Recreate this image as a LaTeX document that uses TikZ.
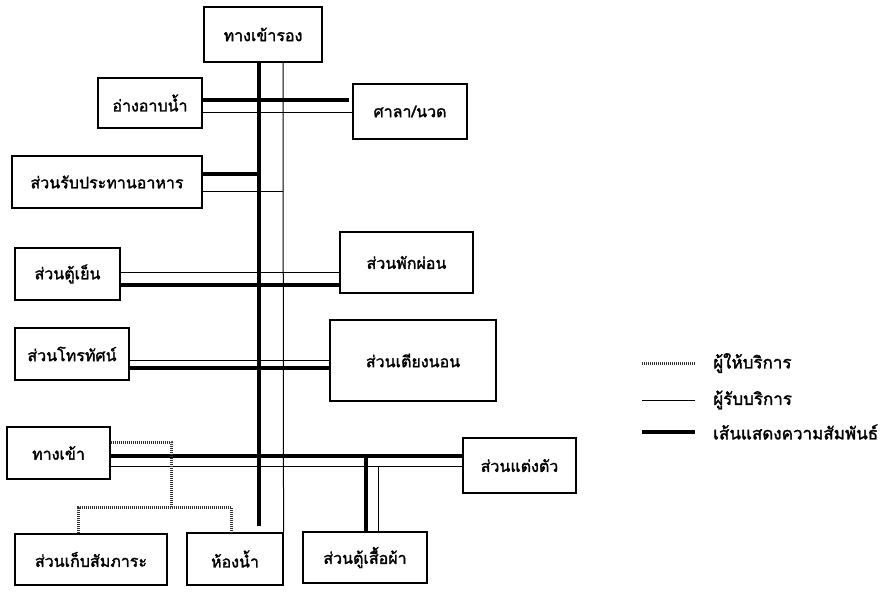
\documentclass[tikz,border=0pt]{standalone}
\usepackage{fontspec}
\newfontfamily\thaifont[Script=Thai,FakeBold=1.8]{Loma}
\usepackage{tikz}
\usetikzlibrary{arrows.meta,positioning}

\begin{document}
\begin{tikzpicture}[x=1pt,y=-1pt,
  room/.style={draw, line width=1.1pt, inner sep=0pt,
    font=\thaifont\fontsize{16}{18}\selectfont},
  key/.style={anchor=west, inner sep=0pt,
    font=\thaifont\fontsize{17}{19}\selectfont},
  rel/.style={line width=4.5pt},
  user/.style={line width=1pt},
  staff/.style={line width=3pt, black!80, dash pattern=on 1.2pt off 0.8pt}]
\useasboundingbox (0,0) rectangle (884,592);
\foreach \name/\txt/\cx/\cy/\w/\h in {
  top/ทางเข้ารอง/263/34.5/118/55,
  tub/อ่างอาบน้ำ/150/103/104/50,
  sala/{ศาลา/นวด}/410/111.5/114/55,
  dining/ส่วนรับประทานอาหาร/107/182/190/52,
  fridge/ส่วนตู้เย็น/67.5/274/105/52,
  rest/ส่วนพักผ่อน/406.5/262.5/133/61,
  tv/ส่วนโทรทัศน์/72/354/114/52,
  bed/ส่วนเตียงนอน/413/360.5/166/81,
  entry/ทางเข้า/58.5/453/103/52,
  dress/ส่วนแต่งตัว/519.5/465.5/113/55,
  store/ส่วนเก็บสัมภาระ/91/559.5/152/51,
  wc/ห้องน้ำ/235/559/96/52,
  wardrobe/ส่วนตู้เสื้อผ้า/365/557.5/124/51
} {
  \node[room, minimum width=\w, minimum height=\h] (\name) at (\cx,\cy) {\txt};
}
\coordinate (spineend) at (259,526);
\draw[rel] (top.south -| 259,0) -- (spineend);
\draw[user] (top.south -| 283,0) -- (wc.north east);
\draw[rel] (tub.east |- 0,100) -- ++(146,0);
\draw[user] (tub.east |- 0,112) -- (sala.west |- 0,112);
\draw[rel] (dining.east |- 0,174) -- (259,174);
\draw[user] (dining.east |- 0,191) -- (283,191);
\draw[user] (fridge.east |- 0,272) -- (rest.west |- 0,272);
\draw[rel] (fridge.east |- 0,285) -- (rest.west |- 0,285);
\draw[user] (tv.east |- 0,360) -- (bed.west |- 0,360);
\draw[rel] (tv.east |- 0,368) -- (bed.west |- 0,368);
\draw[rel] (entry.east |- 0,456) -- (dress.west |- 0,456);
\draw[user] (entry.east |- 0,466) -- (dress.west |- 0,466);
\draw[rel] (366,456) -- (wardrobe.north -| 366,0);
\draw[user] (378,466) -- (wardrobe.north -| 378,0);
\draw[staff] (entry.east |- 0,442) -| (171,507);
\draw[staff] (store.north -| 78,0) |- (231,507) -- (wc.north -| 231,0);
\foreach \sty/\txt/\y in {
  staff/ผู้ให้บริการ/363,
  user/ผู้รับบริการ/400,
  rel/เส้นแสดงความสัมพันธ์/432
} {
  \node[key] (key\y) at (713,\y) {\txt};
  \draw[\sty] (642,\y) -- ++(53,0);
}
\end{tikzpicture}
\end{document}
